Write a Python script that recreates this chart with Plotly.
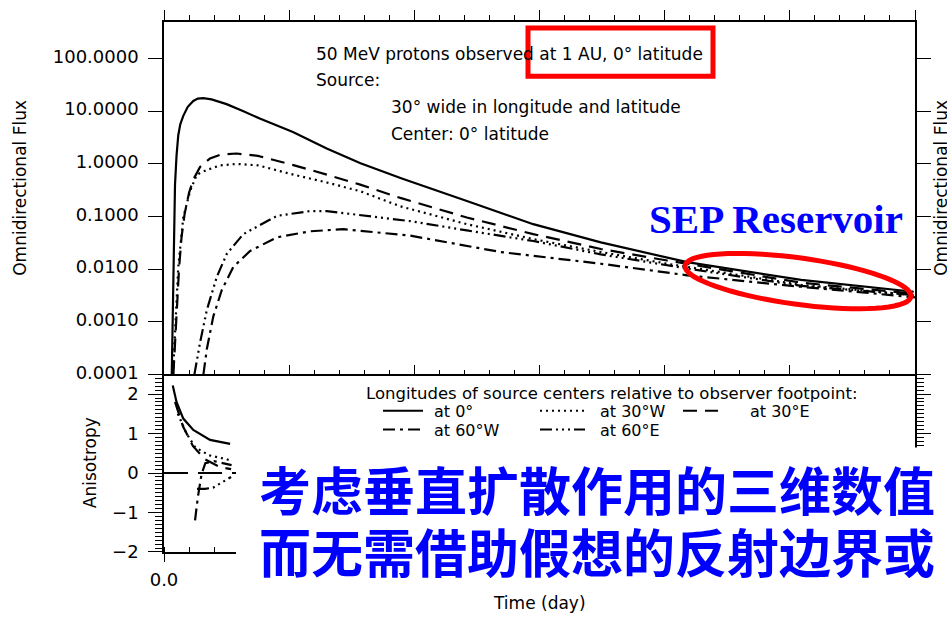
import numpy as np
import plotly.graph_objects as go

# ---------------- data ----------------
series_names = ["at 0°", "at 30°W", "at 30°E", "at 60°W", "at 60°E"]

# Omnidirectional flux vs time (day)
t_0 = [0.062, 0.068, 0.074, 0.080, 0.088, 0.100, 0.114, 0.130, 0.154, 0.190, 0.234, 0.270, 0.314,
       0.380, 0.500, 0.630, 0.770, 1.030, 1.300, 1.570, 1.900, 2.420, 2.950, 3.490, 4.180, 5.090, 5.990]
f_0 = [1.0e-4, 6.3e-4, 5.2e-3, 0.050, 0.40, 1.41, 3.47, 5.6, 8.1, 12.0, 15.5, 17.2, 17.5,
       16.6, 13.5, 10.0, 7.1, 4.0, 1.95, 1.02, 0.525, 0.195, 0.071, 0.032, 0.0135, 0.0062, 0.0037]

t_30w = [0.072, 0.090, 0.114, 0.154, 0.208, 0.262, 0.342, 0.450, 0.580, 0.750, 1.034, 1.300, 1.568,
         1.888, 2.420, 2.950, 3.490, 4.020, 5.090, 5.990]
f_30w = [1.0e-4, 6.3e-4, 0.011, 0.095, 0.30, 0.62, 0.76, 0.93, 0.99, 0.93, 0.62, 0.44, 0.30,
         0.155, 0.071, 0.037, 0.021, 0.0126, 0.0050, 0.0032]

t_30e = [0.075, 0.100, 0.120, 0.140, 0.165, 0.200, 0.234, 0.288, 0.368, 0.450, 0.580, 0.750, 1.034,
         1.300, 1.568, 1.888, 2.420, 2.950, 3.490, 4.020, 5.090, 5.990]
f_30e = [1.0e-4, 1.6e-3, 0.010, 0.040, 0.112, 0.28, 0.50, 0.87, 1.26, 1.48, 1.56, 1.41, 0.94,
         0.62, 0.40, 0.224, 0.095, 0.046, 0.024, 0.0145, 0.0055, 0.0034]

t_60w = [0.315, 0.342, 0.394, 0.462, 0.554, 0.688, 0.902, 1.168, 1.434, 1.968, 2.690, 3.490, 4.180,
         5.090, 6.000]
f_60w = [1.0e-4, 3.0e-4, 1.26e-3, 4.0e-3, 0.011, 0.022, 0.040, 0.052, 0.057, 0.043, 0.021, 0.0126,
         0.0076, 0.0046, 0.0029]

t_60e = [0.243, 0.288, 0.342, 0.422, 0.502, 0.634, 0.902, 1.168, 1.300, 1.568, 1.968, 2.420, 2.950,
         3.490, 4.180, 5.090, 5.990]
f_60e = [1.0e-4, 4.0e-4, 1.66e-3, 7.1e-3, 0.0195, 0.046, 0.102, 0.126, 0.126, 0.105, 0.081, 0.054,
         0.034, 0.019, 0.0102, 0.0048, 0.0032]

# Anisotropy vs time (day)
ta_0 = [0.070, 0.100, 0.154, 0.234, 0.368, 0.528]
a_0 = [2.22, 1.80, 1.38, 1.09, 0.84, 0.74]
ta_30w = [0.110, 0.180, 0.250, 0.360, 0.500, 0.540]
a_30w = [1.50, 1.00, 0.65, 0.45, 0.35, 0.30]
ta_30e = [0.088, 0.152, 0.232, 0.328, 0.448, 0.536]
a_30e = [1.80, 1.18, 0.68, 0.35, 0.15, 0.10]
ta_60w = [0.248, 0.270, 0.300, 0.330, 0.400, 0.540]
a_60w = [-1.20, -0.62, -0.03, 0.25, 0.30, 0.20]
ta_60e = [0.264, 0.328, 0.392, 0.448, 0.504, 0.536]
a_60e = [-0.40, -0.40, -0.37, -0.27, -0.15, -0.10]

flux_ticks = [1e-4, 1e-3, 1e-2, 1e-1, 1, 10, 100]
flux_ticktext = ["0.0001", "0.0010", "0.0100", "0.1000", "1.0000", "10.0000", "100.0000"]
time_ticks = [0, 1, 2, 3, 4, 5, 6]
time_ticktext = ["0.0", "", "", "", "", "", ""]   # only "0.0" is visible in the reference

info_lines = ["50 MeV protons observed at 1 AU, 0° latitude", "Source:",
              "30° wide in longitude and latitude", "Center: 0° latitude"]
legend_title = "Longitudes of source centers relative to observer footpoint:"
cn_lines = ["考虑垂直扩散作用的三维数值", "而无需借助假想的反射边界或"]

# ---------------- styling ----------------
W, H = 947, 617
L, R, T, B = 164, 32, 15, 65
PW, PH = W - L - R, H - T - B
split = (552 - 372) / PH

def px(x):
    return (x - L) / PW

def py(y):
    return (H - B - y) / PH

dashes = ["solid", "2px,4px", "14px,8px", "12px,5px,3px,5px", "12px,4px,2px,4px,2px,4px,2px,4px"]
LW = 2.2
font = "DejaVu Sans"

fig = go.Figure()
flux = [(t_0, f_0), (t_30w, f_30w), (t_30e, f_30e), (t_60w, f_60w), (t_60e, f_60e)]
aniso = [(ta_0, a_0), (ta_30w, a_30w), (ta_30e, a_30e), (ta_60w, a_60w), (ta_60e, a_60e)]
for name, d, (tt, ff) in zip(series_names, dashes, flux):
    fig.add_trace(go.Scatter(x=tt, y=ff, mode="lines", name=name, showlegend=False,
                             line=dict(color="black", width=LW, dash=d), xaxis="x", yaxis="y"))
for name, d, (tt, aa) in zip(series_names, dashes, aniso):
    fig.add_trace(go.Scatter(x=tt, y=aa, mode="lines", name=name, showlegend=False,
                             line=dict(color="black", width=LW, dash=d), xaxis="x2", yaxis="y2"))
# empty traces to realise the mirror axes
fig.add_trace(go.Scatter(x=[], y=[], xaxis="x3", yaxis="y3", showlegend=False))
fig.add_trace(go.Scatter(x=[], y=[], xaxis="x2", yaxis="y4", showlegend=False))

xr = [0, 6]
ax_common = dict(showline=True, linecolor="black", linewidth=1.5, showgrid=False, zeroline=False,
                 tickcolor="black", tickwidth=1.3, tickfont=dict(family=font, size=18, color="black"))
minor_in = dict(dtick=0.2, ticks="inside", ticklen=5, tickcolor="black", tickwidth=1.2)

fig.update_layout(
    width=W, height=H, margin=dict(l=L, r=R, t=T, b=B),
    paper_bgcolor="white", plot_bgcolor="white",
    xaxis=dict(ax_common, domain=[0, 1], anchor="y", range=xr, dtick=1, ticks="inside", ticklen=10,
               minor=minor_in, showticklabels=False),
    xaxis3=dict(ax_common, overlaying="x", side="top", anchor="y", range=xr, dtick=1, ticks="outside",
                ticklen=10, minor=dict(dtick=0.2, ticks="outside", ticklen=5, tickcolor="black", tickwidth=1.2),
                showticklabels=False),
    yaxis=dict(ax_common, domain=[split, 1], anchor="x", type="log", range=[-4, 2.69],
               tickvals=flux_ticks, ticktext=flux_ticktext, ticks="outside", ticklen=14,
               ticklabelstandoff=6, ticklabelshift=-2),
    yaxis3=dict(ax_common, overlaying="y", side="right", anchor="x", type="log", range=[-4, 2.69],
                tickvals=flux_ticks, ticks="outside", ticklen=14, showticklabels=False),
    xaxis2=dict(ax_common, domain=[0, 1], anchor="y2", range=xr, tickvals=time_ticks, ticktext=time_ticktext,
                ticks="outside", ticklen=8, ticklabelstandoff=3, minor=minor_in),
    yaxis2=dict(ax_common, domain=[0, split], anchor="x2", range=[-2, 2.5], tick0=0, dtick=1,
                ticks="outside", ticklen=14, ticklabelstandoff=6,
                minor=dict(dtick=0.1, ticks="outside", ticklen=7, tickcolor="black", tickwidth=1.2)),
    yaxis4=dict(ax_common, overlaying="y2", side="right", anchor="x2", range=[-2, 2.5], tick0=0, dtick=1,
                ticks="outside", ticklen=14, showticklabels=False,
                minor=dict(dtick=0.1, ticks="outside", ticklen=7, tickcolor="black", tickwidth=1.2)),
)

shapes = []
annos = []
# zero line in anisotropy panel
shapes.append(dict(type="line", xref="x2", yref="y2", x0=0, x1=6, y0=0, y1=0,
                   line=dict(color="black", width=2, dash="24px,10px")))

# info text in top panel
info_pos = [(314, 47), (314, 74), (389, 101), (389, 128)]
for txt, (x, y) in zip(info_lines, info_pos):
    annos.append(dict(text=txt, xref="paper", yref="paper", x=px(x), y=py(y), xanchor="left",
                      yanchor="middle", showarrow=False, font=dict(family=font, size=17, color="black")))
# red box
shapes.append(dict(type="rect", xref="paper", yref="paper", x0=px(528), x1=px(713), y0=py(70), y1=py(21),
                   line=dict(color="#ff0000", width=5)))

# SEP Reservoir + ellipse
annos.append(dict(text="<b>SEP Reservoir</b>", xref="paper", yref="paper", x=px(776), y=py(215),
                  xanchor="center", yanchor="middle", showarrow=False,
                  font=dict(family="Liberation Serif", size=41, color="#0000ff")))
cx, cy, ra, rb, ang = 798, 277.5, 114, 23.5, np.deg2rad(7.9)
th = np.linspace(0, 2 * np.pi, 73)
ex = cx + ra * np.cos(th) * np.cos(ang) - rb * np.sin(th) * np.sin(ang)
ey = cy + ra * np.cos(th) * np.sin(ang) + rb * np.sin(th) * np.cos(ang)
path = "M " + " L ".join(f"{px(a):.5f},{py(b):.5f}" for a, b in zip(ex, ey)) + " Z"
shapes.append(dict(type="path", xref="paper", yref="paper", path=path, line=dict(color="#ff0000", width=5)))

# legend in anisotropy panel
leg_font = dict(family=font, size=16, color="black")
annos.append(dict(text=legend_title, xref="paper", yref="paper", x=px(364), y=py(391), xanchor="left",
                  yanchor="middle", showarrow=False, font=dict(family=font, size=16.5, color="black"),
                  height=18))
leg_pos = [((383, 423), 432, 409), ((540, 585), 598, 409), ((683, 718), 748, 409),
           ((383, 423), 432, 428), ((540, 585), 598, 428)]
for name, d, ((s0, s1), tx, ty) in zip(series_names, dashes, leg_pos):
    shapes.append(dict(type="line", xref="paper", yref="paper", x0=px(s0), x1=px(s1), y0=py(ty), y1=py(ty),
                       line=dict(color="black", width=2, dash=d)))
    annos.append(dict(text=name, xref="paper", yref="paper", x=px(tx), y=py(ty), xanchor="left",
                      yanchor="middle", showarrow=False, font=leg_font, height=18))

# white box with Chinese text
shapes.append(dict(type="rect", xref="paper", yref="paper", x0=px(236), x1=px(947), y0=py(592), y1=py(446),
                   fillcolor="white", line=dict(width=0), layer="above"))
for txt, y in zip(cn_lines, [487, 550]):
    annos.append(dict(text=txt, xref="paper", yref="paper", x=px(597), y=py(y), xanchor="center",
                      yanchor="middle", showarrow=False, height=56,
                      font=dict(family="Noto Sans CJK SC", size=52, color="#0000ff", weight="bold")))

# axis titles
title_font = dict(family=font, size=17, color="black")
annos.append(dict(text="Omnidirectional Flux", xref="paper", yref="paper", x=px(20), y=py(183),
                  xanchor="center", yanchor="middle", textangle=-90, showarrow=False, font=title_font))
annos.append(dict(text="Omnidirectional Flux", xref="paper", yref="paper", x=px(941), y=py(183),
                  xanchor="center", yanchor="middle", textangle=-90, showarrow=False, font=title_font))
annos.append(dict(text="Anisotropy", xref="paper", yref="paper", x=px(90), y=py(462),
                  xanchor="center", yanchor="middle", textangle=-90, showarrow=False, font=title_font))
annos.append(dict(text="Time (day)", xref="paper", yref="paper", x=px(539), y=py(604),
                  xanchor="center", yanchor="middle", showarrow=False, font=title_font))

fig.update_layout(shapes=shapes, annotations=annos)
fig.write_html("out.html")
